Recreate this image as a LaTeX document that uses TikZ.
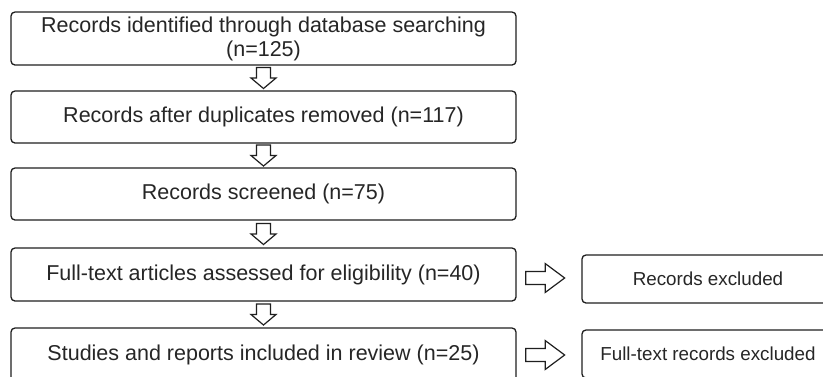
\documentclass[tikz,border=0pt]{standalone}
\usepackage{fontspec}
\setmainfont{Liberation Sans}
\usetikzlibrary{calc}
\begin{document}
\begin{tikzpicture}[x=1pt,y=-1pt,
  box/.style={draw=black!88, line width=1.3pt, rounded corners=4pt,
    minimum width=505pt, inner sep=0pt, align=center,
    font=\fontsize{21.5}{24}\selectfont, text=black!85},
  sidebox/.style={draw=black!88, line width=1.3pt, rounded corners=4pt,
    minimum width=252pt, minimum height=48pt, inner sep=0pt, align=center,
    font=\fontsize{18.8}{21}\selectfont, text=black!85},
  blockarrow/.style={draw=black!88, line width=1.2pt, fill=white, line join=miter},
  downarrow/.pic={
    \path[blockarrow] (-7,-10.5) -- (7,-10.5) -- (7,0) -- (12.5,0) -- (0,10.5)
      -- (-12.5,0) -- (-7,0) -- cycle;},
  rightarrow/.pic={
    \path[blockarrow] (-19.5,-6.5) -- (0,-6.5) -- (0,-14.5) -- (19.5,0) -- (0,14.5)
      -- (0,6.5) -- (-19.5,6.5) -- cycle;}
]
\clip (0,0) rectangle (823,376);
\fill[white] (0,0) rectangle (823,376);

% main flow
\node[box, minimum height=53pt] (b1) at (263.5,38.5)
  {Records identified through database searching\\(n=125)};
\node[box, minimum height=52pt] (b2) at (263.5,117)
  {Records after duplicates removed (n=117)};
\node[box, minimum height=52pt] (b3) at (263.5,194)
  {Records screened (n=75)};
\node[box, minimum height=53pt] (b4) at (263.5,274.5)
  {Full-text articles assessed for eligibility (n=40)};
\node[box, minimum height=53pt] (b5) at (263.5,354.5)
  {Studies and reports included in review (n=25)};

% exclusions
\node[sidebox] (r1) at (708,279) {Records excluded};
\node[sidebox] (r2) at (708,354) {Full-text records excluded};

% down arrows between consecutive boxes
\foreach \a/\b in {b1/b2, b2/b3, b3/b4, b4/b5}
  \pic at ($(\a.south)!0.5!(\b.north)$) {downarrow};

% arrows to the exclusion boxes
\pic at ($(b4.east)+(28.5,3.5)$) {rightarrow};
\pic at ($(b5.east)+(28.5,0.5)$) {rightarrow};
\end{tikzpicture}
\end{document}
